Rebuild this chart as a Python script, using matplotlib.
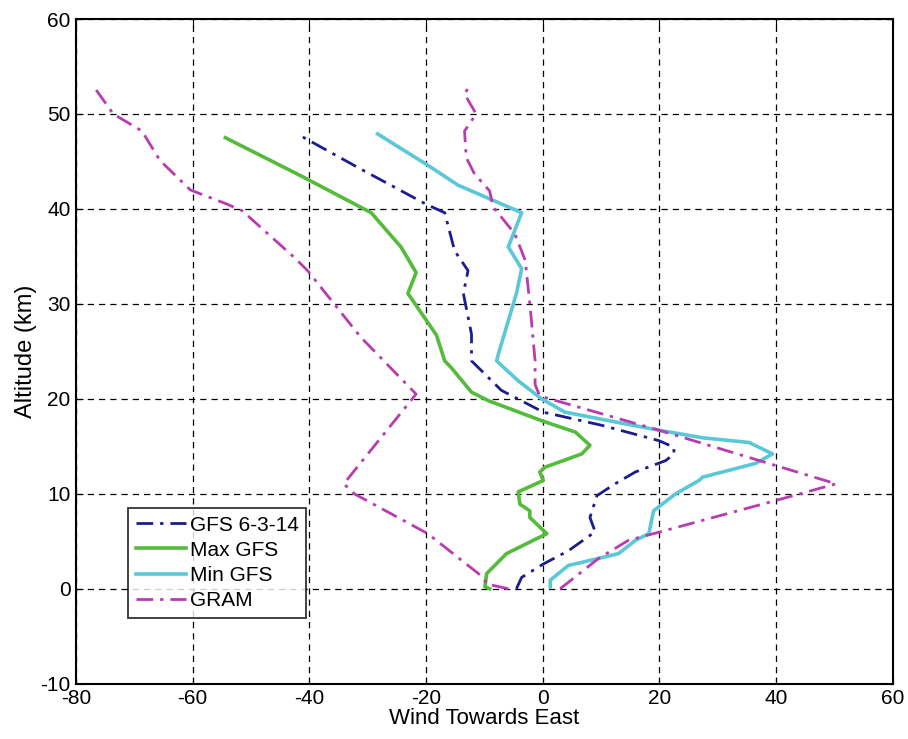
import matplotlib.pyplot as plt

plt.rcParams['font.family'] = ['Liberation Sans', 'DejaVu Sans']
plt.rcParams['axes.unicode_minus'] = False

# GFS 6-3-14
gfs_x = [-4.5, -3.6, 0.1, 4.4, 9.0, 8.1, 9.3, 12.4, 15.9, 21.1, 22.5, 22.5, 19.9, 10.2,
         0.1, -7.1, -12.2, -12.2, -13.6, -12.8, -15.1, -16.8, -20.0, -31.2, -41.2]
gfs_alt = [0, 1.2, 2.6, 4.0, 6.0, 7.5, 9.8, 11.05, 12.3, 13.5, 14.2, 14.9, 15.6, 17.2,
           18.6, 20.9, 24.0, 26.8, 31.1, 33.5, 35.6, 39.6, 40.5, 44.2, 47.6]

# Max GFS
max_x = [-9.1, -9.9, -9.6, -6.2, 0.7, -2.2, -2.2, -3.9, -4.2, 0.1, -0.5, 0.4, 6.7, 8.1,
         5.6, -0.2, -9.3, -12.2, -15.7, -16.8, -18.2, -23.1, -21.7, -24.3, -29.4, -41.5, -54.4]
max_alt = [0, 0.2, 1.6, 3.7, 5.8, 7.5, 8.2, 8.9, 10.2, 11.4, 12.3, 12.8, 14.2, 15.1,
           16.5, 17.7, 19.8, 20.7, 23.3, 24.0, 26.7, 31.1, 33.3, 36.0, 39.6, 43.5, 47.5]

# Min GFS
min_x = [1.3, 1.3, 4.4, 9.6, 13.0, 15.9, 18.2, 19.0, 22.8, 26.8, 27.4, 36.5, 39.4, 35.4,
         27.4, 19.9, 13.0, 3.8, -0.2, -4.2, -7.9, -7.6, -4.5, -3.6, -5.9, -3.6, -14.5,
         -19.7, -28.3]
min_alt = [0.2, 0.9, 2.45, 3.2, 3.7, 5.1, 5.8, 8.2, 10.0, 11.4, 11.75, 13.2, 14.2, 15.4,
           15.9, 16.7, 17.5, 18.6, 20.0, 21.9, 24.0, 24.7, 31.1, 33.7, 36.0, 39.6, 42.5,
           44.6, 47.9]

# GRAM (two branches)
gram_w_x = [-5.9, -9.6, -10.2, -19.7, -32.3, -34.1, -21.7, -31.2, -40.3, -42.6, -51.5,
            -54.1, -60.4, -65.6, -67.3, -68.7, -73.6, -77.1]
gram_w_alt = [0, 0.5, 1.2, 5.8, 10.0, 11.05, 20.5, 26.5, 33.5, 34.9, 39.8, 40.5, 42.0,
              45.1, 46.8, 48.2, 50.0, 53.0]
gram_e_x = [3.0, 9.6, 14.7, 20.2, 40.0, 50.3, 19.9, -0.5, -1.3, -1.3, -2.2, -3.0, -4.8,
            -8.5, -9.1, -11.7, -13.1, -13.4, -11.4, -13.4, -12.5]
gram_e_alt = [0, 3.2, 5.1, 6.0, 9.3, 11.05, 16.7, 20.3, 21.5, 24.0, 30.0, 34.6, 37.4,
              40.2, 41.9, 43.7, 45.4, 48.2, 50.0, 52.1, 53.0]

fig = plt.figure(figsize=(9.08, 7.39), dpi=100)
ax = fig.add_axes([76 / 908, 1 - 683.7 / 739, (892.7 - 76) / 908, (683.7 - 19) / 739])

dashdot = (0, (6, 2.5, 1.2, 2.5))
ax.plot(gfs_x, gfs_alt, color='#1c1c8c', lw=2, ls=dashdot, label='GFS 6-3-14')
ax.plot(max_x, max_alt, color='#55bb3a', lw=2.6, label='Max GFS')
ax.plot(min_x, min_alt, color='#5ac8d6', lw=2.6, label='Min GFS')
ax.plot(gram_w_x, gram_w_alt, color='#b83cb0', lw=2, ls=dashdot, label='GRAM')
ax.plot(gram_e_x, gram_e_alt, color='#b83cb0', lw=2, ls=dashdot)

ax.set_xlim(-80, 60)
ax.set_ylim(-10, 60)
ax.set_xticks(range(-80, 61, 20))
ax.set_yticks(range(-10, 61, 10))
ax.grid(True, color='black', ls=(0, (5, 4)), lw=0.9)
ax.tick_params(direction='in', top=True, right=True, labelsize=15, length=5, pad=4)
for s in ax.spines.values():
    s.set_linewidth(1.5)

ax.set_xlabel('Wind Towards East', fontsize=16, labelpad=0)
ax.set_ylabel('Altitude (km)', fontsize=17, labelpad=2)

leg = ax.legend(loc='upper left', bbox_to_anchor=(0.064, 0.264), borderaxespad=0,
                fontsize=15, frameon=True, fancybox=False, edgecolor='black',
                borderpad=0.35, labelspacing=0.3, handlelength=2.4, handletextpad=0.2)
leg.get_frame().set_linewidth(1.3)

fig.savefig('out.png', dpi=100)
